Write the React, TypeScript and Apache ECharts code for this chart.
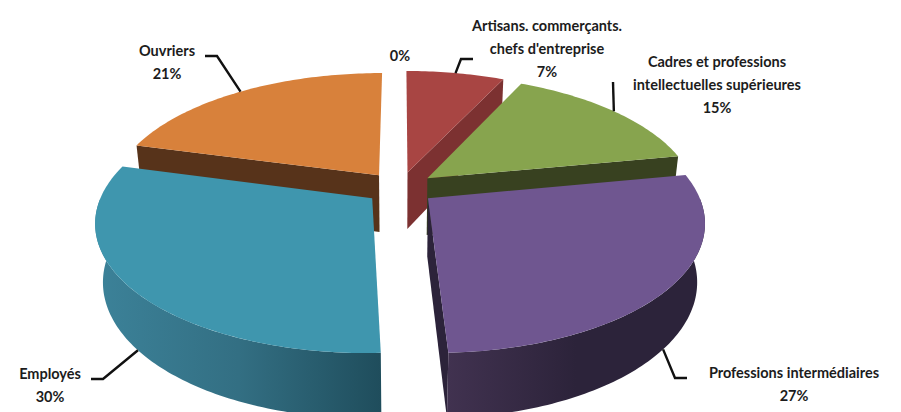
import React, { useEffect, useRef } from "react";
import * as echarts from "echarts";

const categories = ["Artisans. commerçants. chefs d'entreprise", "Cadres et professions intellectuelles supérieures", "Professions intermédiaires", "Employés", "Ouvriers", ""];
const labelLines = [["Artisans. commerçants.", "chefs d'entreprise"], ["Cadres et professions", "intellectuelles supérieures"], ["Professions intermédiaires"], ["Employés"], ["Ouvriers"], []];
const values = [7, 15, 27.3, 29.9, 20.8, 0];

const topColors = ["#a84543", "#87a44e", "#6f5690", "#3f96ae", "#d8813b"];
const wallColors = ["#7c3131", "#384120", ["#413250", "#2c233a", "#2c233a"], ["#3c8299", "#336f83", "#1f4d5c"], "#57331a"];

// label layout: centre x, first line y; leader elbow and end
const labelPos = [[547, 25], [717, 61], [794, 372], [50, 373], [167, 50], [400, 55]];
const leaderPts = [[[461, 59], [473, 59]], [[613, 82]], [[675, 378], [687, 378]], [[103, 379], [91, 379]], [[217, 56], [205, 56]], []];
const LINE_H = 23;

// perspective pie model
const CX = 400, CY = 188, A = 268, B = 124, P = 0.173, EXPLODE = 0.131, DROP = 58.8, DROP_W = 0.025;
const total = values.reduce((s, v) => s + v, 0);
const rad = (d: number) => (d * Math.PI) / 180;

function project(X: number, Y: number, lower: boolean): number[] {
  const w = 1 + P * Y + (lower ? DROP_W : 0);
  return [CX + (A * X) / w, CY - (B * Y - (lower ? DROP : 0)) / w];
}

function spans(i: number) {
  const before = values.slice(0, i).reduce((s, v) => s + v, 0);
  const a0 = (before / total) * 360;
  const a1 = ((before + values[i]) / total) * 360;
  return { a0, a1, mid: (a0 + a1) / 2 };
}

function pointOf(i: number, r: number, deg: number, lower: boolean) {
  const m = rad(spans(i).mid);
  const a = rad(deg);
  return project(EXPLODE * Math.sin(m) + r * Math.sin(a), EXPLODE * Math.cos(m) + r * Math.cos(a), lower);
}

function arc(i: number, from: number, to: number, lower: boolean) {
  const n = Math.max(2, Math.ceil(Math.abs(to - from)));
  const pts: number[][] = [];
  for (let k = 0; k <= n; k++) pts.push(pointOf(i, 1, from + ((to - from) * k) / n, lower));
  return pts;
}

const fillOf = (c: any) =>
  Array.isArray(c)
    ? new echarts.graphic.LinearGradient(0, 0, 1, 0, c.map((color: string, k: number) => ({ offset: k / (c.length - 1), color })))
    : c;

function renderSlice(params: any) {
  const i = params.dataIndex === undefined ? 0 : drawOrder[params.dataIndex];
  const children: any[] = [];
  const { a0, a1, mid } = spans(i);
  const pct = Math.round((values[i] / total) * 100) + "%";
  if (values[i] > 0) {
    const wall = fillOf(wallColors[i]);
    const radial = (deg: number) =>
      children.push({
        type: "polygon",
        shape: { points: [pointOf(i, 0, 0, false), pointOf(i, 1, deg, false), pointOf(i, 1, deg, true), pointOf(i, 0, 0, true)] },
        style: { fill: typeof wall === "string" ? wall : "#2c233a" },
      });
    if (Math.sin(rad(a0)) < -0.001) radial(a0);
    if (Math.sin(rad(a1)) > 0.001) radial(a1);
    const from = Math.max(a0, 90), to = Math.min(a1, 270);
    if (to > from) {
      children.push({
        type: "polygon",
        shape: { points: [...arc(i, from, to, false), ...arc(i, to, from, true)] },
        style: { fill: wall },
      });
    }
    children.push({
      type: "polygon",
      shape: { points: [pointOf(i, 0, 0, false), ...arc(i, a0, a1, false)] },
      style: { fill: topColors[i] },
    });
    const front = Math.cos(rad(mid)) < 0;
    children.push({
      type: "polyline",
      z2: 10,
      shape: { points: [pointOf(i, 1, mid, front), ...leaderPts[i]] },
      style: { stroke: "#111", lineWidth: 2.4, fill: "none" },
    });
  }
  const [lx, ly] = labelPos[i];
  [...labelLines[i], pct].forEach((t, k) =>
    children.push({
      type: "text",
      z2: 20,
      x: lx,
      y: ly + k * LINE_H,
      style: {
        text: t,
        fill: "#1c1c1c",
        font: 'bold 14.5px Lato, "Open Sans", sans-serif',
        align: "center",
        verticalAlign: "middle",
      },
    })
  );
  return { type: "group", children };
}

// far slices first, so that nearer walls overlap them
const drawOrder = values
  .map((_, i) => i)
  .sort((p, q) => Math.cos(rad(spans(q).mid)) - Math.cos(rad(spans(p).mid)));

export default function App() {
  const ref = useRef<HTMLDivElement>(null);
  useEffect(() => {
    const chart = echarts.init(ref.current!, null, { renderer: "svg" });
    chart.setOption({
      animation: false,
      backgroundColor: "#ffffff",
      series: [
        {
          type: "custom",
          coordinateSystem: "none",
          silent: true,
          clip: false,
          renderItem: renderSlice,
          data: drawOrder.map((i) => ({ name: categories[i], value: [i, values[i]] })),
        },
      ],
    });
    return () => chart.dispose();
  }, []);
  return <div ref={ref} style={{ position: "fixed", left: 0, top: 0, width: 901, height: 412 }} />;
}
